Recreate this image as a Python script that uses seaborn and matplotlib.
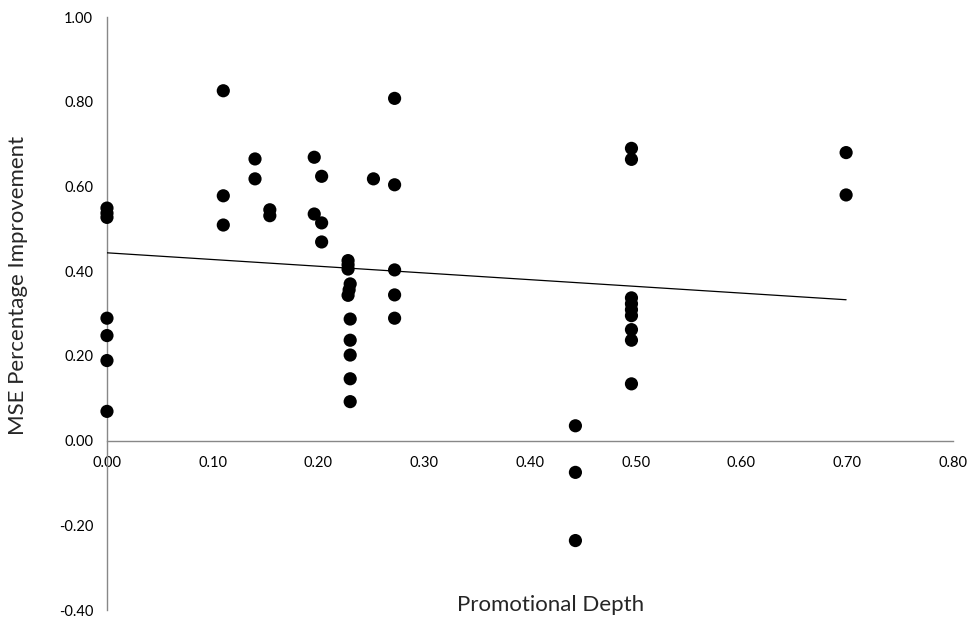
import matplotlib
matplotlib.use("Agg")
import matplotlib.pyplot as plt
import seaborn as sns
import pandas as pd
from matplotlib.ticker import FormatStrFormatter, MultipleLocator

# ================================================
#  Datos
# ================================================

promo_depth = [
    0.000, 0.000, 0.000, 0.000, 0.000, 0.000, 0.000,
    0.110, 0.110, 0.110,
    0.140, 0.140,
    0.154, 0.154,
    0.196, 0.196,
    0.203, 0.203, 0.203,
    0.228, 0.228, 0.228, 0.230, 0.229, 0.228, 0.230, 0.230, 0.230, 0.230, 0.230,
    0.252,
    0.272, 0.272, 0.272, 0.272, 0.272,
    0.443, 0.443, 0.443,
    0.496, 0.496, 0.496, 0.496, 0.496, 0.496, 0.496, 0.496, 0.496,
    0.699, 0.699,
]

mse_improvement = [
    0.549, 0.537, 0.527, 0.289, 0.248, 0.189, 0.069,
    0.826, 0.578, 0.509,
    0.665, 0.618,
    0.545, 0.531,
    0.669, 0.535,
    0.624, 0.514, 0.469,
    0.425, 0.415, 0.405, 0.370, 0.356, 0.343, 0.287, 0.237, 0.202, 0.146, 0.092,
    0.618,
    0.808, 0.604, 0.403, 0.344, 0.289,
    0.035, -0.075, -0.236,
    0.690, 0.664, 0.337, 0.323, 0.309, 0.295, 0.262, 0.237, 0.134,
    0.680, 0.580,
]

df = pd.DataFrame({"Promotional Depth": promo_depth,
                   "MSE Percentage Improvement": mse_improvement})

# ================================================
#  Gráfico de dispersión con línea de tendencia
# ================================================

sns.set_style("white")
plt.rcParams['font.family'] = ['Lato', 'DejaVu Sans']

fig = plt.figure(figsize=(9.69, 6.18), dpi=100)
ax = fig.add_axes([0.1104, 0.0129, 0.873, 0.9595])

sns.regplot(data=df, x="Promotional Depth", y="MSE Percentage Improvement",
            ci=None, truncate=True, ax=ax,
            scatter_kws={"s": 90, "color": "black", "edgecolor": "none",
                         "alpha": 1, "clip_on": False, "zorder": 3},
            line_kws={"color": "black", "linewidth": 0.9})

ax.set_xlim(0, 0.80)
ax.set_ylim(-0.40, 1.00)
ax.xaxis.set_major_locator(MultipleLocator(0.10))
ax.yaxis.set_major_locator(MultipleLocator(0.20))
ax.xaxis.set_major_formatter(FormatStrFormatter('%.2f'))
ax.yaxis.set_major_formatter(FormatStrFormatter('%.2f'))

# Ejes al estilo Excel: eje X en y=0
ax.spines['bottom'].set_position(('data', 0))
ax.spines['top'].set_visible(False)
ax.spines['right'].set_visible(False)
for s in ['bottom', 'left']:
    ax.spines[s].set_color('#888888')
    ax.spines[s].set_linewidth(1.0)
    ax.spines[s].set_zorder(1)

ax.tick_params(axis='both', direction='out', length=4, width=1.0, color='#888888',
               labelsize=10.5, labelcolor='black')
ax.tick_params(axis='y', pad=6)
ax.tick_params(axis='x', pad=7)

ax.set_xlabel("Promotional Depth", fontsize=16)
ax.set_ylabel("MSE Percentage Improvement", fontsize=16)
ax.xaxis.set_label_coords(0.524, 0.026)
ax.yaxis.set_label_coords(-0.093, 0.548)

ax.patch.set_alpha(0)
fig.savefig("out.png", dpi=100)
